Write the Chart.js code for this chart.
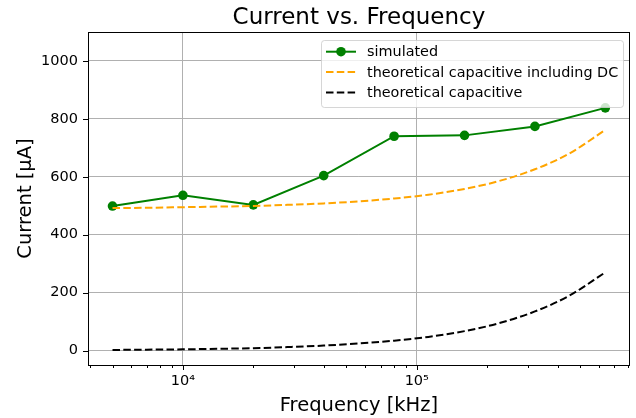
<!DOCTYPE html>
<html>
<head>
<meta charset="utf-8">
<script src="https://cdn.jsdelivr.net/npm/chart.js@4"></script>
<style>
  html, body { margin: 0; padding: 0; background: #fff; }
  #wrap { width: 636px; height: 418px; }
</style>
</head>
<body>
<div id="wrap"><canvas id="chart" width="636" height="418"></canvas></div>
<script>
// simulated measurement points
const simFreq = [5000, 10000, 20000, 40000, 80000, 160000, 320000, 640000];
const simCurrent = [499, 536, 503, 604, 740, 743, 774, 838];

// theoretical curves
const theoFreq = [5000, 7000, 10000, 14000, 20000, 28000, 40000, 56000, 80000, 112000, 160000, 224000, 320000, 448000, 640000];
const theoWithDC = [492, 493, 495, 497, 499, 503, 508, 515, 525, 538, 558, 585, 626, 680, 762];
const theoCap = [2, 3, 4, 6, 8, 12, 17, 24, 34, 47, 67, 94, 135, 189, 270];

const yTicks = [0, 200, 400, 600, 800, 1000];
const xMajor = [10000, 100000];
const xTickLabels = { 10000: '10\u2074', 100000: '10\u2075' };

const FONT = "'DejaVu Sans', sans-serif";

function pairs(xs, ys) {
    return xs.map((x, i) => ({ x: x, y: ys[i] }));
}

function minorTicks() {
    const out = [];
    [1000, 10000, 100000].forEach(d => {
        for (let m = 1; m <= 9; m++) {
            const v = m * d;
            if (v >= 3928 && v <= 815000) out.push(v);
        }
    });
    return out;
}

const frame = {
    id: 'frame',
    afterDatasetsDraw(chart) {
        const { ctx } = chart;
        ctx.save();
        // legend
        const lx = 321, ly = 40, lw = 302, lh = 67;
        ctx.fillStyle = 'rgba(255,255,255,0.8)';
        ctx.strokeStyle = 'rgba(204,204,204,0.8)';
        ctx.lineWidth = 1;
        ctx.beginPath();
        ctx.roundRect(lx + 0.5, ly + 0.5, lw, lh, 3);
        ctx.fill();
        ctx.stroke();
        const rows = [51.7, 71.9, 92.5];
        ctx.font = '14.4px ' + FONT;
        ctx.textBaseline = 'middle';
        chart.data.datasets.forEach((ds, i) => {
            const y = rows[i];
            ctx.strokeStyle = ds.borderColor;
            ctx.lineWidth = ds.borderWidth;
            ctx.setLineDash(ds.borderDash || []);
            ctx.beginPath();
            ctx.moveTo(326, y);
            ctx.lineTo(356, y);
            ctx.stroke();
            ctx.setLineDash([]);
            if (ds.pointRadius) {
                ctx.fillStyle = ds.pointBackgroundColor;
                ctx.beginPath();
                ctx.arc(341, y, ds.pointRadius, 0, Math.PI * 2);
                ctx.fill();
            }
            ctx.fillStyle = '#000';
            ctx.fillText(ds.label, 367, y + 1);
        });
        ctx.restore();
    },
    afterDraw(chart) {
        const { ctx, chartArea: a } = chart;
        const xs = chart.scales.x, ys = chart.scales.y;
        ctx.save();
        ctx.strokeStyle = '#000';
        ctx.lineWidth = 1;
        ctx.strokeRect(Math.round(a.left) + 0.5, Math.round(a.top) + 0.5,
            Math.round(a.right - a.left) - 1, Math.round(a.bottom - a.top));
        // tick marks
        ctx.beginPath();
        minorTicks().forEach(v => {
            const px = Math.round(xs.getPixelForValue(v)) + 0.5;
            const len = xMajor.includes(v) ? 5 : 3;
            ctx.moveTo(px, a.bottom);
            ctx.lineTo(px, a.bottom + len);
        });
        yTicks.forEach(v => {
            const py = Math.round(ys.getPixelForValue(v)) + 0.5;
            ctx.moveTo(a.left, py);
            ctx.lineTo(a.left - 5, py);
        });
        ctx.stroke();
        // titles
        ctx.fillStyle = '#000';
        ctx.textAlign = 'center';
        ctx.textBaseline = 'alphabetic';
        ctx.font = '23px ' + FONT;
        ctx.fillText('Current vs. Frequency', (a.left + a.right) / 2, 24);
        ctx.font = '19.5px ' + FONT;
        ctx.fillText('Frequency [kHz]', (a.left + a.right) / 2, 411);
        ctx.translate(31, (a.top + a.bottom) / 2);
        ctx.rotate(-Math.PI / 2);
        ctx.fillText('Current [\u03bcA]', 0, 0);
        ctx.restore();
    }
};

new Chart(document.getElementById('chart'), {
    type: 'line',
    data: {
        datasets: [
            {
                label: 'simulated',
                data: pairs(simFreq, simCurrent),
                borderColor: '#008000',
                backgroundColor: '#008000',
                pointBackgroundColor: '#008000',
                pointBorderWidth: 0,
                pointRadius: 4.8,
                borderWidth: 2,
                order: 3
            },
            {
                label: 'theoretical capacitive including DC',
                data: pairs(theoFreq, theoWithDC),
                borderColor: '#ffa500',
                borderDash: [7.5, 3.3],
                borderWidth: 2,
                pointRadius: 0,
                cubicInterpolationMode: 'monotone',
                order: 2
            },
            {
                label: 'theoretical capacitive',
                data: pairs(theoFreq, theoCap),
                borderColor: '#000000',
                borderDash: [7.5, 3.3],
                borderWidth: 2,
                pointRadius: 0,
                cubicInterpolationMode: 'monotone',
                order: 1
            }
        ]
    },
    options: {
        responsive: false,
        animation: false,
        layout: { padding: { top: 32, right: 5, left: 0, bottom: 0 } },
        plugins: {
            legend: { display: false },
            title: { display: false },
            tooltip: { enabled: false }
        },
        scales: {
            x: {
                type: 'logarithmic',
                min: 3928,
                max: 815000,
                afterBuildTicks: (s) => { s.ticks = minorTicks().map(v => ({ value: v })); },
                afterFit: (s) => { s.height = 53; },
                border: { display: false },
                grid: {
                    drawTicks: false,
                    color: (c) => xMajor.includes(c.tick && c.tick.value) ? '#b0b0b0' : 'rgba(0,0,0,0)',
                    lineWidth: 1
                },
                ticks: {
                    autoSkip: false,
                    maxRotation: 0,
                    padding: 8,
                    color: '#000',
                    font: { family: FONT, size: 14.5 },
                    callback: (v) => xTickLabels[v] || ''
                }
            },
            y: {
                min: -50,
                max: 1100,
                afterBuildTicks: (s) => { s.ticks = yTicks.map(v => ({ value: v })); },
                afterFit: (s) => { s.width = 88; },
                border: { display: false },
                grid: { drawTicks: false, color: '#b0b0b0', lineWidth: 1 },
                ticks: {
                    padding: 10,
                    color: '#000',
                    font: { family: FONT, size: 14.5 },
                    callback: (v) => String(v)
                }
            }
        }
    },
    plugins: [frame]
});
</script>
</body>
</html>
